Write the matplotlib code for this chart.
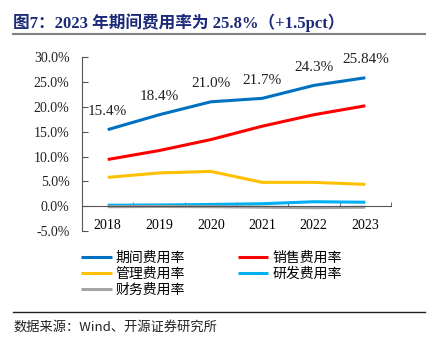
# -*- coding: utf-8 -*-
import matplotlib
matplotlib.use("Agg")
import matplotlib.pyplot as plt
from matplotlib.lines import Line2D

# 数据
years = ["2018", "2019", "2020", "2021", "2022", "2023"]
qijian = [15.4, 18.4, 21.0, 21.7, 24.3, 25.84]
xiaoshou = [9.4, 11.2, 13.4, 16.1, 18.4, 20.2]
guanli = [5.8, 6.7, 7.0, 4.8, 4.8, 4.4]
yanfa = [0.2, 0.25, 0.35, 0.5, 0.9, 0.8]
caiwu = [-0.1, -0.05, -0.1, -0.2, -0.3, -0.2]
etiquetas = ["15.4%", "18.4%", "21.0%", "21.7%", "24.3%", "25.84%"]

SERIF = ["Liberation Serif", "Noto Sans CJK SC"]
CJK = ["Noto Sans CJK SC", "Liberation Serif"]
plt.rcParams["font.family"] = SERIF
plt.rcParams["font.size"] = 10

fig = plt.figure(figsize=(4.36, 3.48), dpi=100)
ax = fig.add_axes([0.188, 0.336, 0.709, 0.500])

x = range(len(years))
series = [
    ("期间费用率", qijian, "#0070C0"),
    ("销售费用率", xiaoshou, "#FF0000"),
    ("管理费用率", guanli, "#FFC000"),
    ("研发费用率", yanfa, "#00B0F0"),
    ("财务费用率", caiwu, "#A5A5A5"),
]
lineas = {}
for nombre, vals, col in series:
    (ln,) = ax.plot(x, vals, color=col, lw=2.2, solid_capstyle="butt")
    lineas[nombre] = ln

for i, (v, t) in enumerate(zip(qijian, etiquetas)):
    ax.annotate(t, (i, v), xytext=(0, 13), textcoords="offset points",
                ha="center", va="center", fontsize=11, color="#222222")

ax.set_xlim(-0.5, 5.5)
ax.set_ylim(-5, 30)
ax.tick_params(axis="x", which="major", length=0, pad=9)
ax.tick_params(axis="x", which="minor", direction="in", length=3, color="#555555")
ax.tick_params(axis="y", direction="in", length=4, color="#555555", pad=9)
ax.set_yticks(range(-5, 31, 5))
ax.set_yticklabels([f"{v:.1f}%" for v in range(-5, 31, 5)], color="#222222")
ax.set_xticks(list(x))
ax.set_xticklabels(years, color="#222222")
ax.set_xticks([i + 0.5 for i in range(6)], minor=True)

for s in ("top", "right"):
    ax.spines[s].set_visible(False)
ax.spines["bottom"].set_position(("data", 0))
ax.spines["bottom"].set_color("#555555")
ax.spines["left"].set_color("#555555")
ax.patch.set_alpha(0)

# leyenda (orden por filas)
orden = ["期间费用率", "管理费用率", "财务费用率", "销售费用率", "研发费用率"]
fig.legend([lineas[n] for n in orden], orden, ncol=2, loc="upper left",
           bbox_to_anchor=(0.157, 0.314), frameon=False,
           prop={"family": CJK, "size": 10}, handlelength=2.2,
           handletextpad=0.3, columnspacing=3.8, labelspacing=0.12)

# titulo y notas
fig.text(0.03, 0.934, "图7：2023 年期间费用率为 25.8%（+1.5pct）", fontsize=12,
         weight="bold", color="#1C2A78", va="center")
fig.add_artist(Line2D([0.03, 0.975], [0.902, 0.902], color="#808080", lw=1.5))
fig.add_artist(Line2D([0.03, 0.975], [0.103, 0.103], color="#222222", lw=1.0))
fig.text(0.032, 0.06, "数据来源：Wind、开源证券研究所", fontsize=9.5,
         family=CJK, color="#222222", va="center")

fig.savefig("out.png", dpi=100)
